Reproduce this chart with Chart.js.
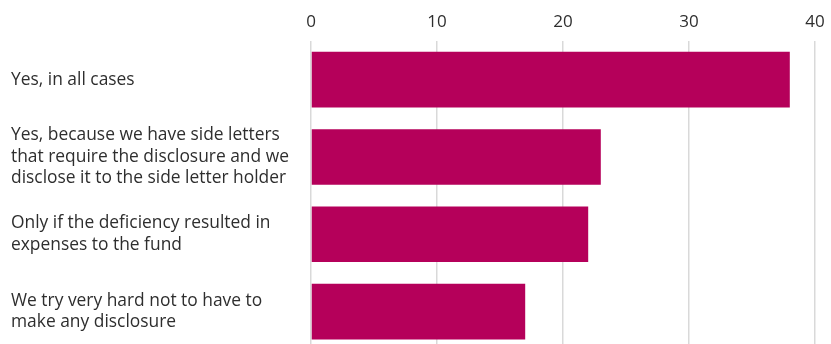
<!DOCTYPE html>
<html>
<head>
<meta charset="utf-8">
<script src="https://cdn.jsdelivr.net/npm/chart.js@4"></script>
<style>
  html, body { margin: 0; padding: 0; background: #fff; overflow: hidden; }
  #wrap { position: relative; width: 831px; height: 364px; }
</style>
</head>
<body>
<div id="wrap"><canvas id="barChart"></canvas></div>
<script>
var answers = [
  ['Yes, in all cases'],
  ['Yes, because we have side letters', 'that require the disclosure and we', 'disclose it to the side letter holder'],
  ['Only if the deficiency resulted in', 'expenses to the fund'],
  ['We try very hard not to have to', 'make any disclosure']
];
var responses = [38, 23, 22, 17];
var tickValues = [0, 10, 20, 30, 40];

var fontFamily = '"Open Sans", Lato, sans-serif';

var ctx = document.getElementById('barChart').getContext('2d');
var barChart = new Chart(ctx, {
  type: 'bar',
  data: {
    labels: answers,
    datasets: [
      {
        data: responses,
        backgroundColor: '#b5005a',
        barPercentage: 0.72,
        categoryPercentage: 1
      }
    ]
  },
  options: {
    indexAxis: 'y',
    responsive: true,
    maintainAspectRatio: false,
    animation: false,
    layout: { padding: { left: 11, right: 0, top: 0, bottom: 0 } },
    plugins: {
      legend: { display: false },
      tooltip: { enabled: false }
    },
    scales: {
      x: {
        position: 'top',
        min: 0,
        max: 40,
        afterBuildTicks: function (scale) {
          scale.ticks = tickValues.map(function (v) { return { value: v }; });
        },
        afterFit: function (scale) {
          scale.height = 41;
          scale.paddingRight = 16;
        },
        border: { display: false },
        grid: { color: '#d9d9d9', lineWidth: 1.5, drawTicks: false },
        ticks: { color: '#2e2e2e', font: { family: fontFamily, size: 17 }, padding: 9, maxRotation: 0 }
      },
      y: {
        afterFit: function (scale) { scale.width = 300; },
        border: { display: false },
        grid: { display: false },
        ticks: { color: '#2e2e2e', font: { family: fontFamily, size: 17.4, lineHeight: 1.24 }, crossAlign: 'far' }
      }
    }
  }
});
</script>
</body>
</html>
